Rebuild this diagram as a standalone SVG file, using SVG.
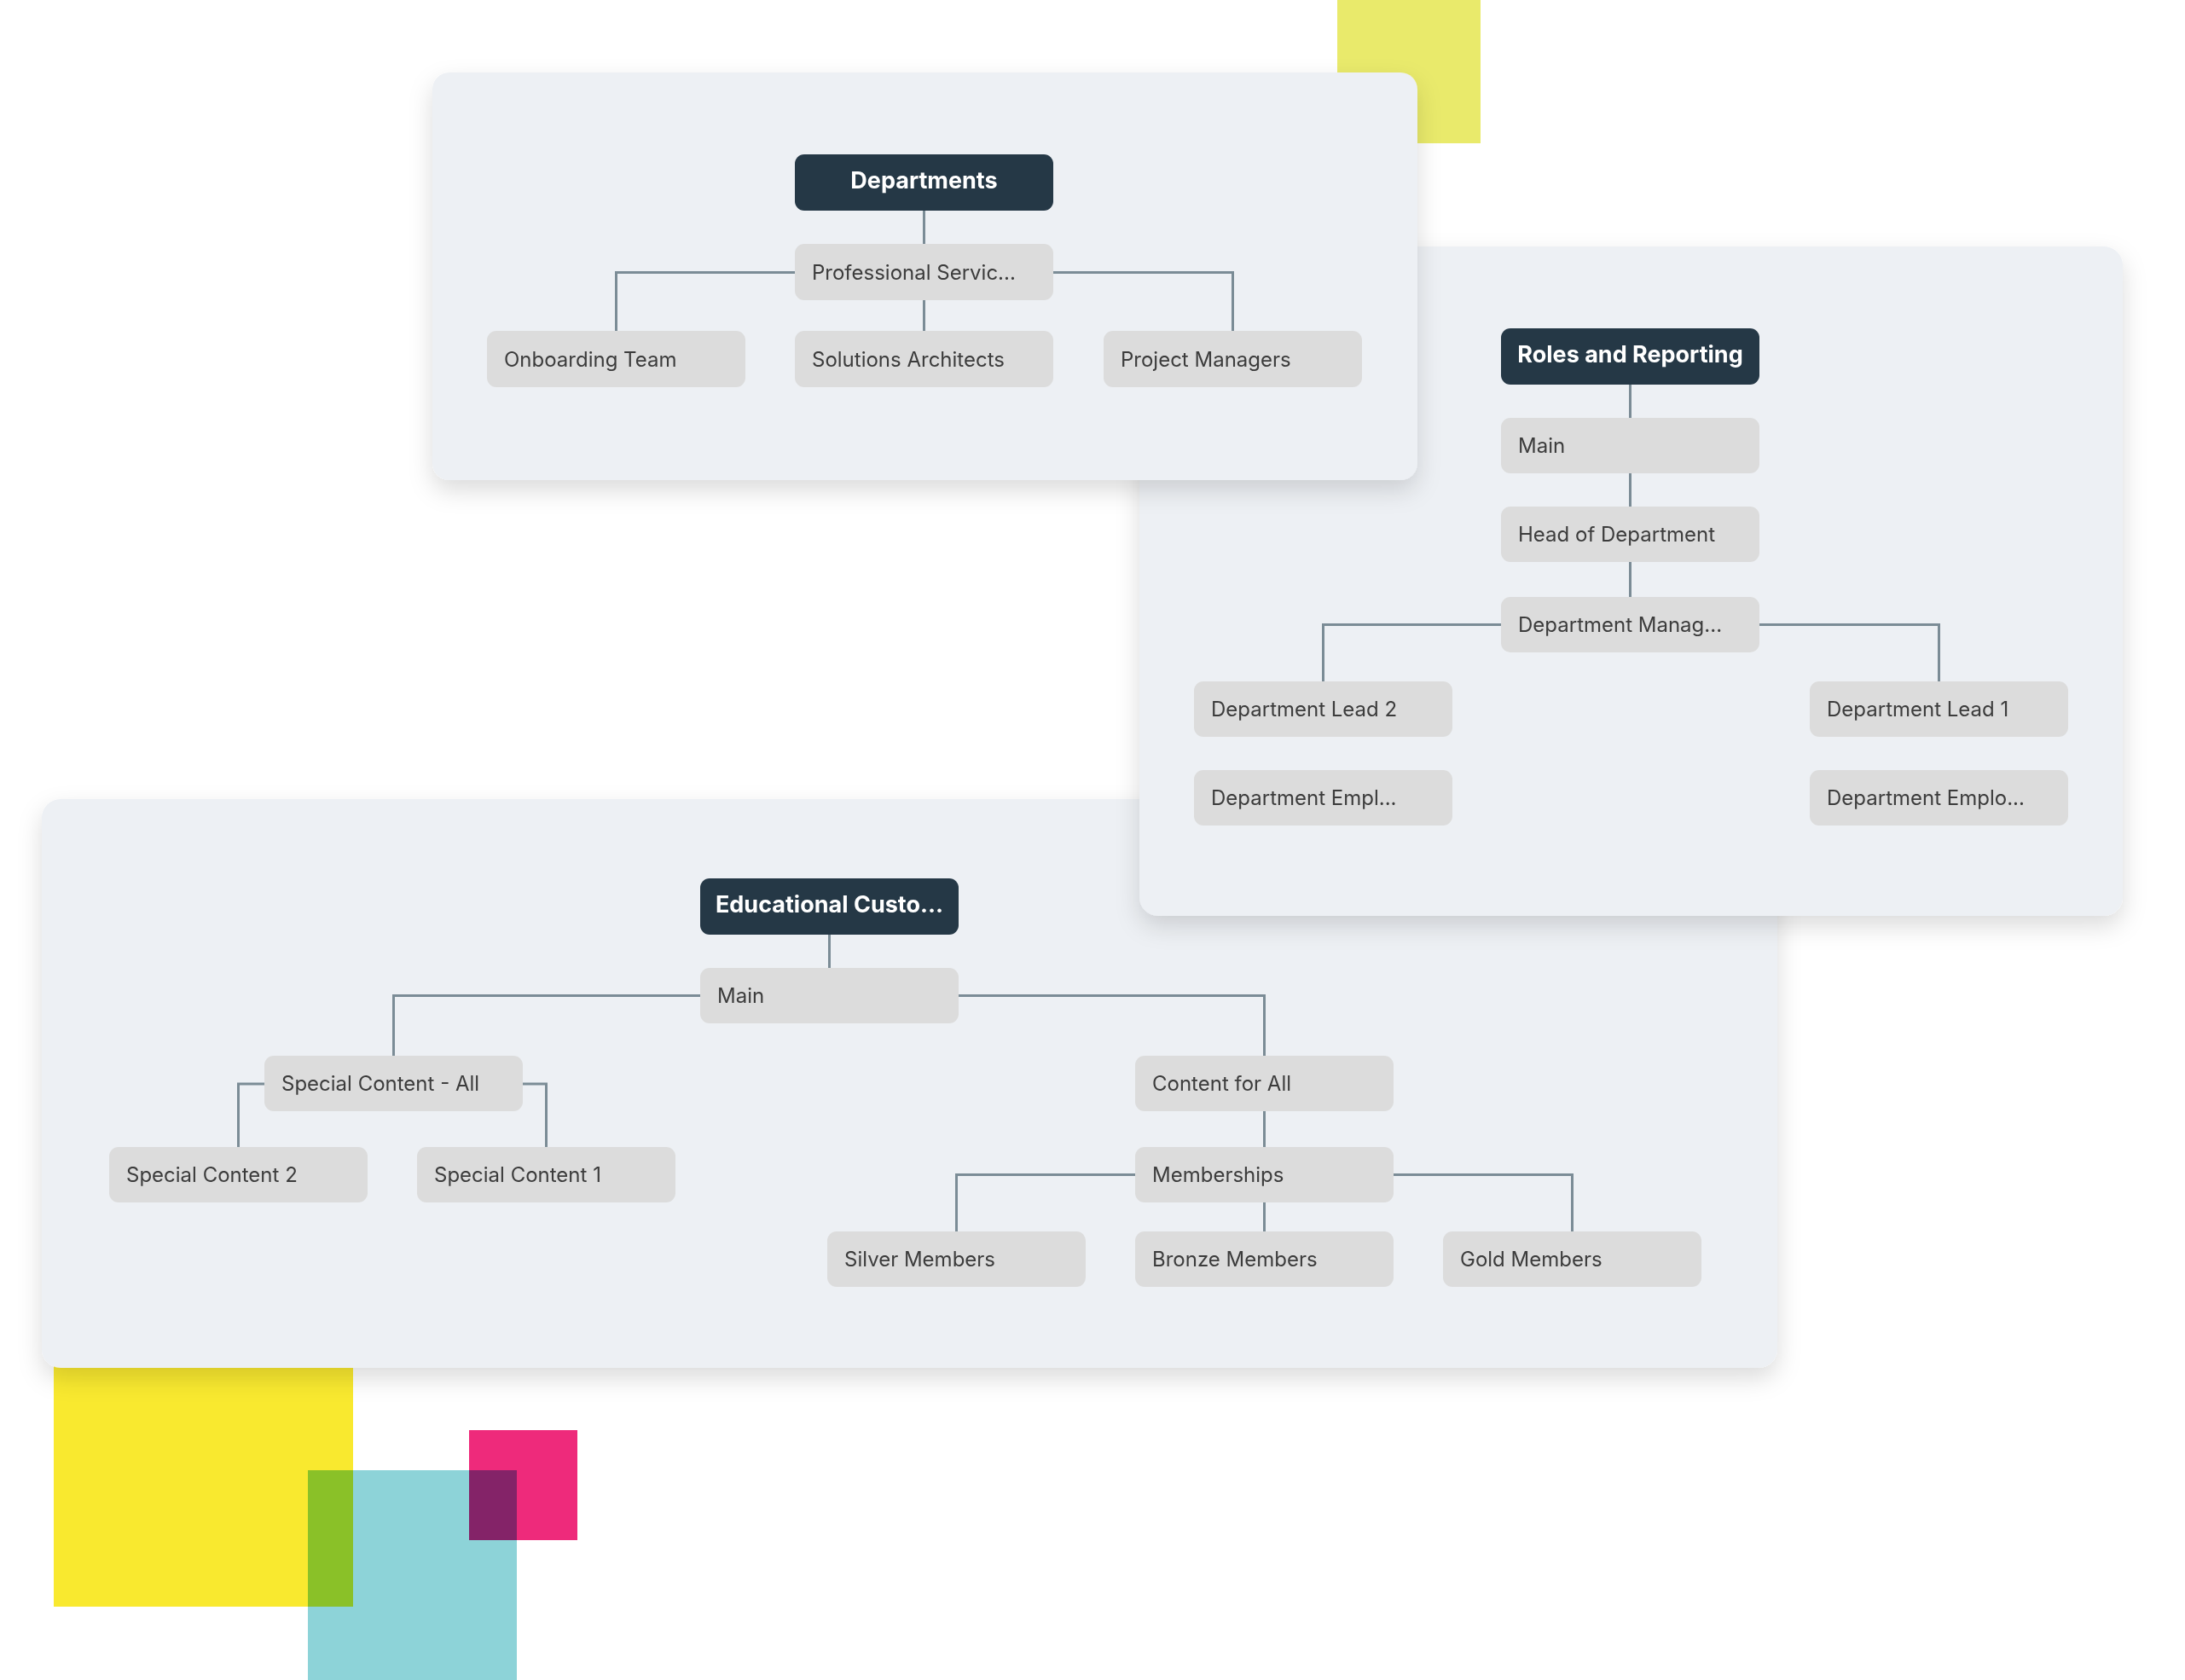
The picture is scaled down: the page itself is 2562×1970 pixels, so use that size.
<svg xmlns="http://www.w3.org/2000/svg" width="2562" height="1970" viewBox="0 0 2562 1970">
  <defs>
    <filter id="panelShadow" x="-10%" y="-10%" width="120%" height="130%">
      <feDropShadow dx="0" dy="12" stdDeviation="14" flood-color="#000000" flood-opacity="0.14"/>
    </filter>
    <style>
      .panel { fill: #edf0f4; filter: url(#panelShadow); }
      .node { fill: #dcdcdc; }
      .root { fill: #253846; }
      .lbl { font-family: Inter, "Liberation Sans", sans-serif; font-size: 24px; fill: #3c3c3c; }
      .ttl { font-family: Inter, "Liberation Sans", sans-serif; font-size: 27px; font-weight: 700; fill: #ffffff; text-anchor: middle; }
      .conn { fill: none; stroke: #7b8c96; stroke-width: 3; }
      .mul { mix-blend-mode: multiply; }
    </style>
  </defs>
  <rect x="0" y="0" width="2562" height="1970" fill="#ffffff"/>

  <g id="decor">
    <rect x="1568" y="0" width="168" height="168" fill="#e9ea6b"/>
    <rect x="63" y="1590" width="351" height="294" fill="#f9e92f"/>
    <rect class="mul" x="361" y="1724" width="245" height="246" fill="#8dd3d8"/>
    <rect class="mul" x="550" y="1677" width="127" height="129" fill="#ee2a7b"/>
  </g>

  <!-- Panel 3: Educational -->
  <g id="panel-educational">
    <rect class="panel" x="49" y="937" width="2035" height="667" rx="22"/>
    <g id="connectors-educational">
      <path class="conn" d="M972.5,1096 V1135"/>
      <path class="conn" d="M821,1167.5 H461.5 V1238"/>
      <path class="conn" d="M1124,1167.5 H1482.5 V1238"/>
      <path class="conn" d="M310,1271 H279.5 V1345"/>
      <path class="conn" d="M613,1271 H640.5 V1345"/>
      <path class="conn" d="M1482.5,1303 V1345"/>
      <path class="conn" d="M1331,1377.5 H1121.5 V1444"/>
      <path class="conn" d="M1634,1377.5 H1843.5 V1444"/>
      <path class="conn" d="M1482.5,1410 V1444"/>
    </g>
    <g id="edu-root"><rect class="root" x="821" y="1030" width="303" height="66" rx="11"/><text class="ttl" x="972.5" y="1070">Educational Custo...</text></g>
    <g id="edu-main"><rect class="node" x="821" y="1135" width="303" height="65" rx="11"/><text class="lbl" x="841" y="1176">Main</text></g>
    <g id="edu-special-all"><rect class="node" x="310" y="1238" width="303" height="65" rx="11"/><text class="lbl" x="330" y="1279">Special Content - All</text></g>
    <g id="edu-content-all"><rect class="node" x="1331" y="1238" width="303" height="65" rx="11"/><text class="lbl" x="1351" y="1279">Content for All</text></g>
    <g id="edu-special-2"><rect class="node" x="128" y="1345" width="303" height="65" rx="11"/><text class="lbl" x="148" y="1386">Special Content 2</text></g>
    <g id="edu-special-1"><rect class="node" x="489" y="1345" width="303" height="65" rx="11"/><text class="lbl" x="509" y="1386">Special Content 1</text></g>
    <g id="edu-memberships"><rect class="node" x="1331" y="1345" width="303" height="65" rx="11"/><text class="lbl" x="1351" y="1386">Memberships</text></g>
    <g id="edu-silver"><rect class="node" x="970" y="1444" width="303" height="65" rx="11"/><text class="lbl" x="990" y="1485">Silver Members</text></g>
    <g id="edu-bronze"><rect class="node" x="1331" y="1444" width="303" height="65" rx="11"/><text class="lbl" x="1351" y="1485">Bronze Members</text></g>
    <g id="edu-gold"><rect class="node" x="1692" y="1444" width="303" height="65" rx="11"/><text class="lbl" x="1712" y="1485">Gold Members</text></g>
  </g>

  <!-- Panel 2: Roles and Reporting -->
  <g id="panel-roles">
    <rect class="panel" x="1336" y="289" width="1153" height="785" rx="22"/>
    <g id="connectors-roles">
      <path class="conn" d="M1911.5,451 V490"/>
      <path class="conn" d="M1911.5,555 V594"/>
      <path class="conn" d="M1911.5,659 V700"/>
      <path class="conn" d="M1760,732.5 H1551.5 V799"/>
      <path class="conn" d="M2063,732.5 H2273.5 V799"/>
    </g>
    <g id="roles-root"><rect class="root" x="1760" y="385" width="303" height="66" rx="11"/><text class="ttl" x="1911.5" y="425">Roles and Reporting</text></g>
    <g id="roles-main"><rect class="node" x="1760" y="490" width="303" height="65" rx="11"/><text class="lbl" x="1780" y="531">Main</text></g>
    <g id="roles-head"><rect class="node" x="1760" y="594" width="303" height="65" rx="11"/><text class="lbl" x="1780" y="635">Head of Department</text></g>
    <g id="roles-manager"><rect class="node" x="1760" y="700" width="303" height="65" rx="11"/><text class="lbl" x="1780" y="741">Department Manag...</text></g>
    <g id="roles-lead-2"><rect class="node" x="1400" y="799" width="303" height="65" rx="11"/><text class="lbl" x="1420" y="840">Department Lead 2</text></g>
    <g id="roles-lead-1"><rect class="node" x="2122" y="799" width="303" height="65" rx="11"/><text class="lbl" x="2142" y="840">Department Lead 1</text></g>
    <g id="roles-employee-2"><rect class="node" x="1400" y="903" width="303" height="65" rx="11"/><text class="lbl" x="1420" y="944">Department Empl...</text></g>
    <g id="roles-employee-1"><rect class="node" x="2122" y="903" width="303" height="65" rx="11"/><text class="lbl" x="2142" y="944">Department Emplo...</text></g>
  </g>

  <!-- Panel 1: Departments -->
  <g id="panel-departments">
    <rect class="panel" x="507" y="85" width="1155" height="478" rx="20"/>
    <g id="connectors-departments">
      <path class="conn" d="M1083.5,247 V286"/>
      <path class="conn" d="M932,319.5 H722.5 V388"/>
      <path class="conn" d="M1235,319.5 H1445.5 V388"/>
      <path class="conn" d="M1083.5,352 V388"/>
    </g>
    <g id="dep-root"><rect class="root" x="932" y="181" width="303" height="66" rx="11"/><text class="ttl" x="1083.5" y="221">Departments</text></g>
    <g id="dep-professional"><rect class="node" x="932" y="286" width="303" height="66" rx="11"/><text class="lbl" x="952" y="327.5">Professional Servic...</text></g>
    <g id="dep-onboarding"><rect class="node" x="571" y="388" width="303" height="66" rx="11"/><text class="lbl" x="591" y="429.5">Onboarding Team</text></g>
    <g id="dep-solutions"><rect class="node" x="932" y="388" width="303" height="66" rx="11"/><text class="lbl" x="952" y="429.5">Solutions Architects</text></g>
    <g id="dep-projects"><rect class="node" x="1294" y="388" width="303" height="66" rx="11"/><text class="lbl" x="1314" y="429.5">Project Managers</text></g>
  </g>
</svg>
